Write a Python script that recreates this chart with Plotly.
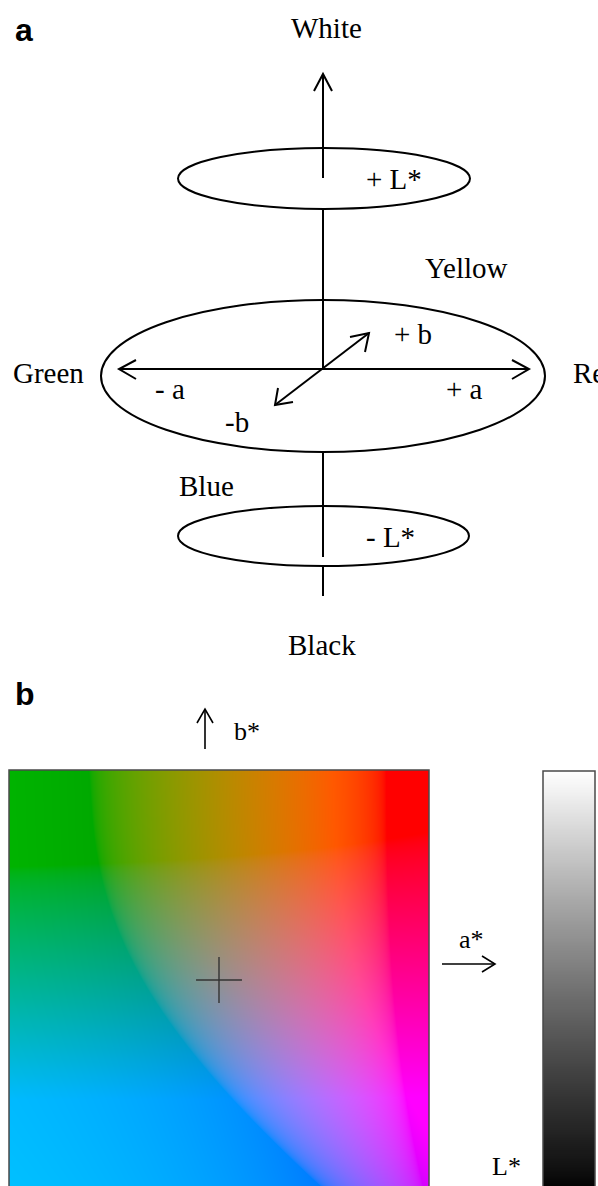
import numpy as np
import plotly.graph_objects as go

# ---------------------------------------------------------------------------
# Content
# ---------------------------------------------------------------------------
panel_letters = ["a", "b"]
pole_labels = ["White", "Black"]
hue_labels = ["Green", "Red", "Yellow", "Blue"]
lightness_labels = ["+ L*", "- L*"]
chroma_labels = ["- a", "+ a", "+ b", "-b"]
plane_axis_labels = ["b*", "a*", "L*"]

# CIELAB slice shown in panel b
L_SLICE = 60.0
A_LIMITS = (-110.0, 110.0)
B_LIMITS = (-110.0, 110.0)
L_LIMITS = (0.0, 100.0)
PLANE_PIXELS = 420
BAR_ROWS = 101

W, H = 598, 1186
SERIF = "Liberation Serif, Times New Roman, serif"
SANS = "Liberation Sans, Arial, sans-serif"


def lab_to_srgb(L, a, b):
    """CIELAB (D65) -> 8-bit sRGB, out-of-gamut channels clipped."""
    fy = (L + 16.0) / 116.0
    fx = fy + a / 500.0
    fz = fy - b / 200.0
    d = 6.0 / 29.0

    def finv(t):
        return np.where(t > d, t ** 3, 3 * d * d * (t - 4.0 / 29.0))

    X = 0.95047 * finv(fx)
    Y = finv(fy) * np.ones_like(X)
    Z = 1.08883 * finv(fz)
    M = np.array([[3.2406, -1.5372, -0.4986],
                  [-0.9689, 1.8758, 0.0415],
                  [0.0557, -0.2040, 1.0570]])
    lin = np.stack([X, Y, Z], axis=-1) @ M.T
    lin = np.clip(lin, 0.0, 1.0)
    srgb = np.where(lin <= 0.0031308, 12.92 * lin,
                    1.055 * lin ** (1 / 2.4) - 0.055)
    return np.round(srgb * 255).astype(np.uint8)


# a*b* plane, row 0 = highest b*
step = (A_LIMITS[1] - A_LIMITS[0]) / PLANE_PIXELS
a_centres = A_LIMITS[0] + step * (np.arange(PLANE_PIXELS) + 0.5)
b_centres = B_LIMITS[1] - step * (np.arange(PLANE_PIXELS) + 0.5)
AA, BB = np.meshgrid(a_centres, b_centres)
plane_rgb = lab_to_srgb(np.full_like(AA, L_SLICE), AA, BB)

# lightness bar
L_values = np.linspace(L_LIMITS[0], L_LIMITS[1], BAR_ROWS)
grey = lab_to_srgb(L_values, np.zeros_like(L_values), np.zeros_like(L_values))[:, 0]
grey_scale = [[i / (BAR_ROWS - 1), f"rgb({g},{g},{g})"] for i, g in enumerate(grey)]

fig = go.Figure()

fig.add_trace(go.Image(
    z=plane_rgb, x0=a_centres[0], dx=step, y0=b_centres[0], dy=-step,
    xaxis="x2", yaxis="y2", hoverinfo="skip"))

fig.add_trace(go.Heatmap(
    z=[[v, v] for v in L_values], x=[0, 1], y=L_values,
    colorscale=grey_scale, zmin=L_LIMITS[0], zmax=L_LIMITS[1],
    showscale=False, zsmooth="best", xaxis="x3", yaxis="y3", hoverinfo="skip"))

# ---------------------------------------------------------------------------
# Panel a : schematic of the L*a*b* solid (overlay axes in page units)
# ---------------------------------------------------------------------------
shapes = []
BLK = dict(color="black", width=2)


def seg(x0, y0, x1, y1, line=BLK):
    shapes.append(dict(type="line", xref="x", yref="y", x0=x0, y0=y0, x1=x1, y1=y1,
                       line=line, layer="above"))


def head(p1, tip, p2, line=BLK):
    shapes.append(dict(type="path", xref="x", yref="y",
                       path=f"M{p1[0]},{p1[1]} L{tip[0]},{tip[1]} L{p2[0]},{p2[1]}",
                       line=line, layer="above"))


def ellipse(x0, y0, x1, y1):
    shapes.append(dict(type="circle", xref="x", yref="y", x0=x0, y0=y0, x1=x1, y1=y1,
                       line=BLK, layer="above"))


ellipse(178, 148, 470, 209)
ellipse(101, 300, 545, 452)
ellipse(178, 506, 469, 566)

# lightness axis
seg(323, 74, 323, 178)
seg(323, 209, 323, 369)
seg(323, 452, 323, 557)
seg(323, 566, 323, 596)
head((314, 91), (323, 74), (332, 91))

# a axis
seg(119, 369, 529, 369)
head((136, 360), (119, 369), (136, 379))
head((512, 360), (529, 369), (512, 379))

# b axis
seg(275, 405, 369, 333)
head((350, 337), (369, 333), (365, 352))
head((293, 402), (275, 405), (278, 388))

# ---------------------------------------------------------------------------
# Panel b : arrows, centre cross and frames
# ---------------------------------------------------------------------------
THIN = dict(color="black", width=1.6)
seg(205, 749, 205, 709, THIN)
head((197, 723), (205, 709), (213, 723), THIN)
seg(442, 964, 495, 964, THIN)
head((482, 956), (495, 964), (482, 972), THIN)

CROSS = dict(color="#333333", width=1.4)
arm = 14 * (A_LIMITS[1] - A_LIMITS[0]) / 256
shapes.append(dict(type="line", xref="x2", yref="y2", x0=-arm, x1=arm, y0=0, y1=0,
                   line=CROSS, layer="above"))
shapes.append(dict(type="line", xref="x2", yref="y2", x0=0, x1=0, y0=-arm, y1=arm,
                   line=CROSS, layer="above"))

FRAME = dict(color="#4a4a4a", width=1.5)
shapes.append(dict(type="rect", xref="x", yref="y", x0=9, x1=429, y0=770, y1=1200,
                   line=FRAME, layer="above"))
shapes.append(dict(type="rect", xref="x", yref="y", x0=543, x1=595, y0=771, y1=1200,
                   line=FRAME, layer="above"))

# ---------------------------------------------------------------------------
# Text
# ---------------------------------------------------------------------------
annotations = []


def label(text, x, y, size=29, family=SERIF, xanchor="center", bold=False):
    annotations.append(dict(
        text=f"<b>{text}</b>" if bold else text, x=x, y=y, xref="x", yref="y",
        showarrow=False, xanchor=xanchor, yanchor="middle",
        font=dict(family=family, size=size, color="black")))


label(panel_letters[0], 24, 30, size=32, family=SANS, bold=True)
label(panel_letters[1], 25, 694, size=32, family=SANS, bold=True)

label(pole_labels[0], 326, 28)
label(pole_labels[1], 322, 645)

label(hue_labels[0], 48, 373)
label(hue_labels[1], 571, 373, xanchor="left")
label(hue_labels[2], 466, 268)
label(hue_labels[3], 206, 486)

label(lightness_labels[0], 394, 179)
label(lightness_labels[1], 390, 537)

label(chroma_labels[0], 170, 389)
label(chroma_labels[1], 464, 389)
label(chroma_labels[2], 413, 334)
label(chroma_labels[3], 237, 422)

label(plane_axis_labels[0], 247, 731, size=26)
label(plane_axis_labels[1], 471, 939, size=26)
label(plane_axis_labels[2], 506, 1166, size=26)

# ---------------------------------------------------------------------------
# Layout
# ---------------------------------------------------------------------------
hidden = dict(visible=False, showgrid=False, zeroline=False, fixedrange=True)
plane_top = 1 - 770 / H
plane_visible = (plane_top * H) / (PLANE_PIXELS / (A_LIMITS[1] - A_LIMITS[0]))

fig.update_layout(
    width=W, height=H, margin=dict(l=0, r=0, t=0, b=0),
    paper_bgcolor="white", plot_bgcolor="rgba(0,0,0,0)",
    showlegend=False,
    xaxis=dict(hidden, domain=[0, 1], range=[0, W]),
    yaxis=dict(hidden, domain=[0, 1], range=[H, 0]),
    xaxis2=dict(hidden, domain=[9 / W, 429 / W], range=list(A_LIMITS), anchor="y2"),
    yaxis2=dict(hidden, domain=[0, plane_top],
                range=[B_LIMITS[1] - plane_visible, B_LIMITS[1]], anchor="x2"),
    xaxis3=dict(hidden, domain=[543 / W, 595 / W], range=[0, 1], anchor="y3"),
    yaxis3=dict(hidden, domain=[0, 1 - 771 / H], range=[0.5, L_LIMITS[1]], anchor="x3"),
    shapes=shapes, annotations=annotations,
)

fig.write_html("out.html")
